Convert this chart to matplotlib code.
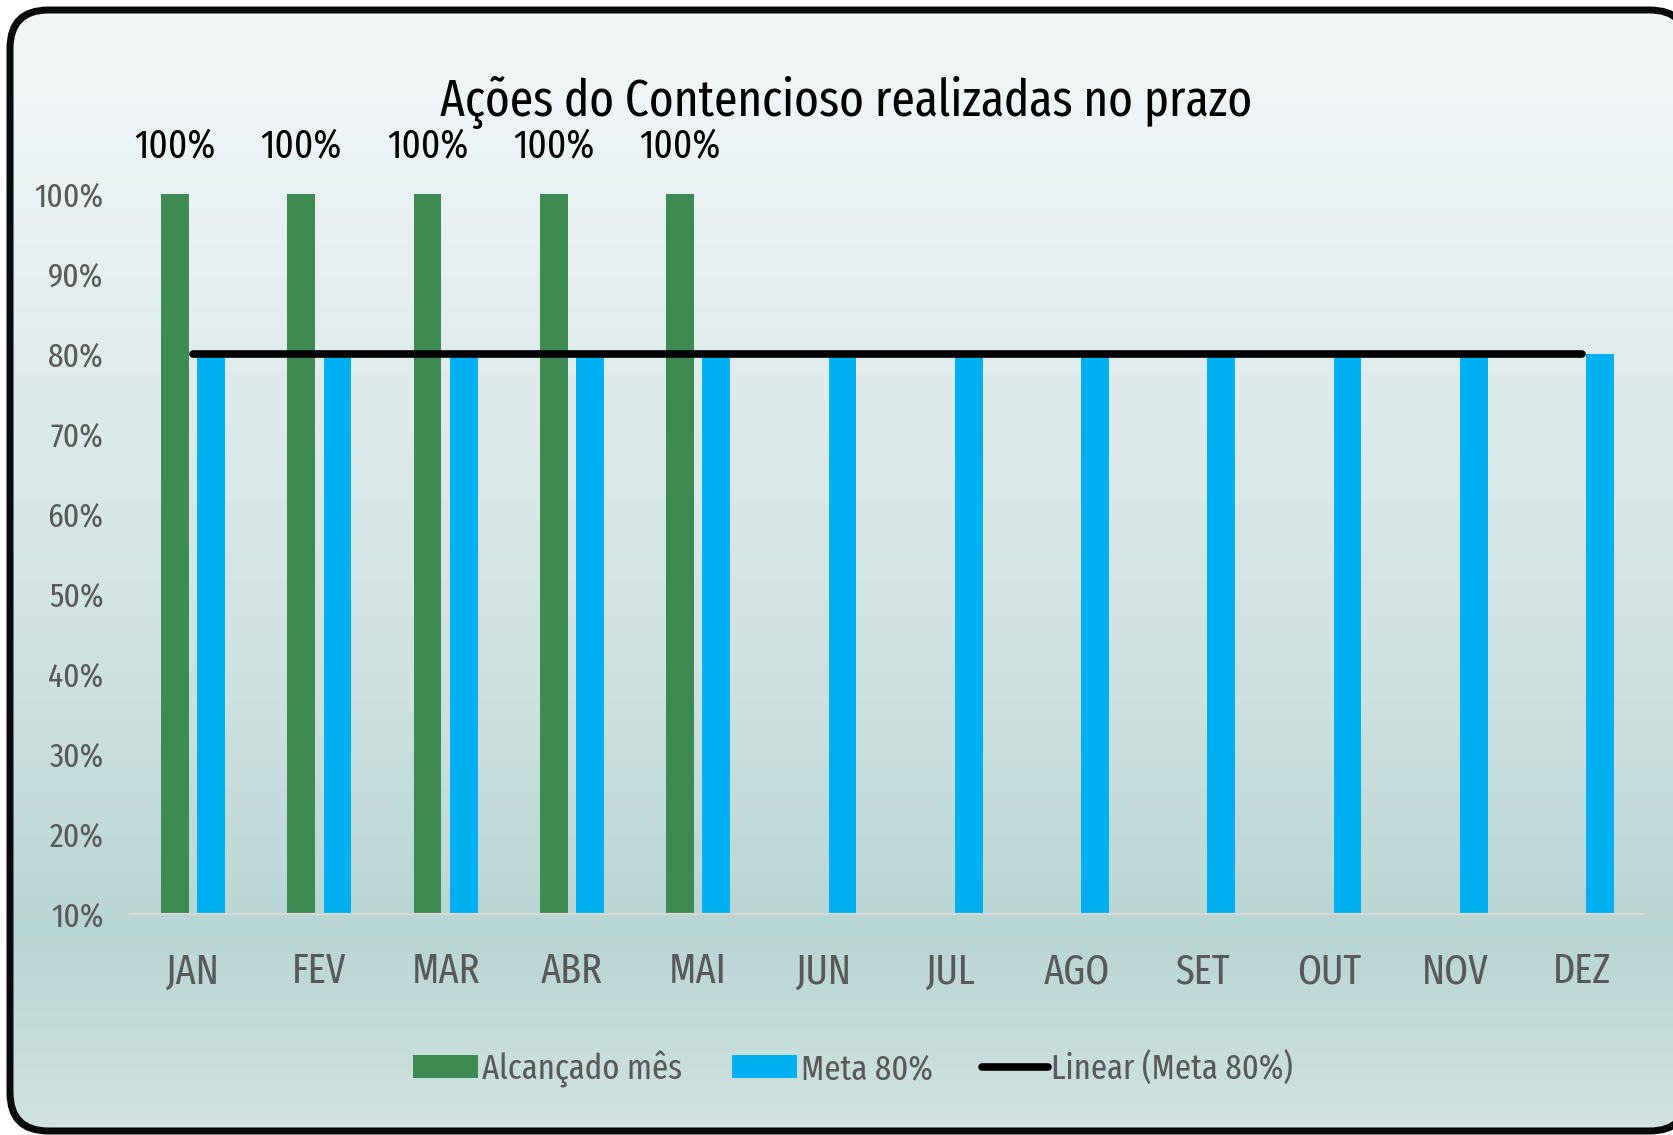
import numpy as np
import matplotlib
matplotlib.use("Agg")
import matplotlib.pyplot as plt
from matplotlib.patches import FancyBboxPatch

plt.rcParams['font.family'] = ['Fira Sans Extra Condensed', 'Open Sans', 'DejaVu Sans']

# data
meses = ["JAN", "FEV", "MAR", "ABR", "MAI", "JUN", "JUL", "AGO", "SET", "OUT", "NOV", "DEZ"]
alcancado = [1.0, 1.0, 1.0, 1.0, 1.0]          # only Jan-May filled
meta = [0.8] * 12
yticks = [0.1, 0.2, 0.3, 0.4, 0.5, 0.6, 0.7, 0.8, 0.9, 1.0]
titulo = "Ações do Contencioso realizadas no prazo"

W, H = 1673, 1135
fig = plt.figure(figsize=(W / 100, H / 100), dpi=100)

# background axes a bit larger than the figure, 1 data unit = 1 pixel
mx, my = 0.03, 0.03
bg = fig.add_axes([-mx, -my, 1 + 2 * mx, 1 + 2 * my])
bg.axis('off')
outer = FancyBboxPatch((6.5, 6.5), 1691.5 - 6.5, 1134.5 - 6.5,
                       boxstyle="round,pad=0,rounding_size=42",
                       facecolor='#0a0a0a', edgecolor='none', zorder=0)
bg.add_patch(outer)
inner = FancyBboxPatch((13.5, 13.5), 1684.5 - 13.5, 1127.5 - 13.5,
                       boxstyle="round,pad=0,rounding_size=35",
                       transform=bg.transData)

stops_y = [0, 120, 400, 700, 930, 1135]
stops_c = np.array([[244, 247, 248], [238, 244, 245], [222, 235, 235],
                    [204, 225, 224], [183, 213, 212], [210, 228, 225]]) / 255
ys = np.arange(H)
grad = np.stack([np.interp(ys, stops_y, stops_c[:, i]) for i in range(3)], axis=-1)
x0, x1 = -mx * W, (1 + mx) * W
y0, y1 = -my * H, (1 + my) * H
img = bg.imshow(np.repeat(grad[:, None, :], 4, axis=1), extent=[x0, x1, H, 0],
                aspect='auto', zorder=1, interpolation='bilinear')
img.set_clip_path(inner)
bg.set_xlim(x0, x1)
bg.set_ylim(y1, y0)

# main plot
ax = fig.add_axes([130 / W, (H - 914) / H, (1645 - 130) / W, (914 - 194) / H])
ax.patch.set_alpha(0)
x = np.arange(len(meses))
bw = 0.22
off = 0.143
b1 = ax.bar(x[:len(alcancado)] - off, alcancado, bw, color='#3d8a53', label='Alcançado mês', zorder=2)
b2 = ax.bar(x + off, meta, bw, color='#00b0f0', label='Meta 80%', zorder=2)

# linear trendline of the target series
coef = np.polyfit(x, meta, 1)
ln, = ax.plot(x, np.polyval(coef, x), color='black', linewidth=5.5, solid_capstyle='round',
              label='Linear (Meta 80%)', zorder=3)

for xi, v in zip(x, alcancado):
    ax.annotate(f"{v:.0%}", (xi - off, v), xytext=(0, 26), textcoords='offset points',
                ha='center', va='baseline', fontsize=29, color='black')

ax.set_xlim(-0.5, len(meses) - 0.5)
ax.set_ylim(0.1, 1.0)
ax.set_yticks(yticks)
ax.set_yticklabels([f"{v:.0%}" for v in yticks])
ax.set_xticks(x)
ax.set_xticklabels(meses)
ax.tick_params(axis='y', length=0, pad=19, labelsize=24.5, labelcolor='#595959')
ax.tick_params(axis='x', length=0, pad=27, labelsize=30, labelcolor='#595959')
for s in ['top', 'right', 'left']:
    ax.spines[s].set_visible(False)
ax.spines['bottom'].set_color('#d9d9d9')
ax.spines['bottom'].set_linewidth(1.5)

fig.text(846 / W, 1 - 115 / H, titulo, ha='center', va='baseline', fontsize=37, color='black')

fig.legend([b1, b2, ln], ['Alcançado mês', 'Meta 80%', 'Linear (Meta 80%)'],
           loc='center', bbox_to_anchor=(853 / W, 1 - 1069 / H), ncol=3, frameon=False,
           fontsize=25.5, labelcolor='#595959', handlelength=1.85, handleheight=0.65,
           handletextpad=0.1, columnspacing=1.4)

fig.savefig("out.png", dpi=100)
